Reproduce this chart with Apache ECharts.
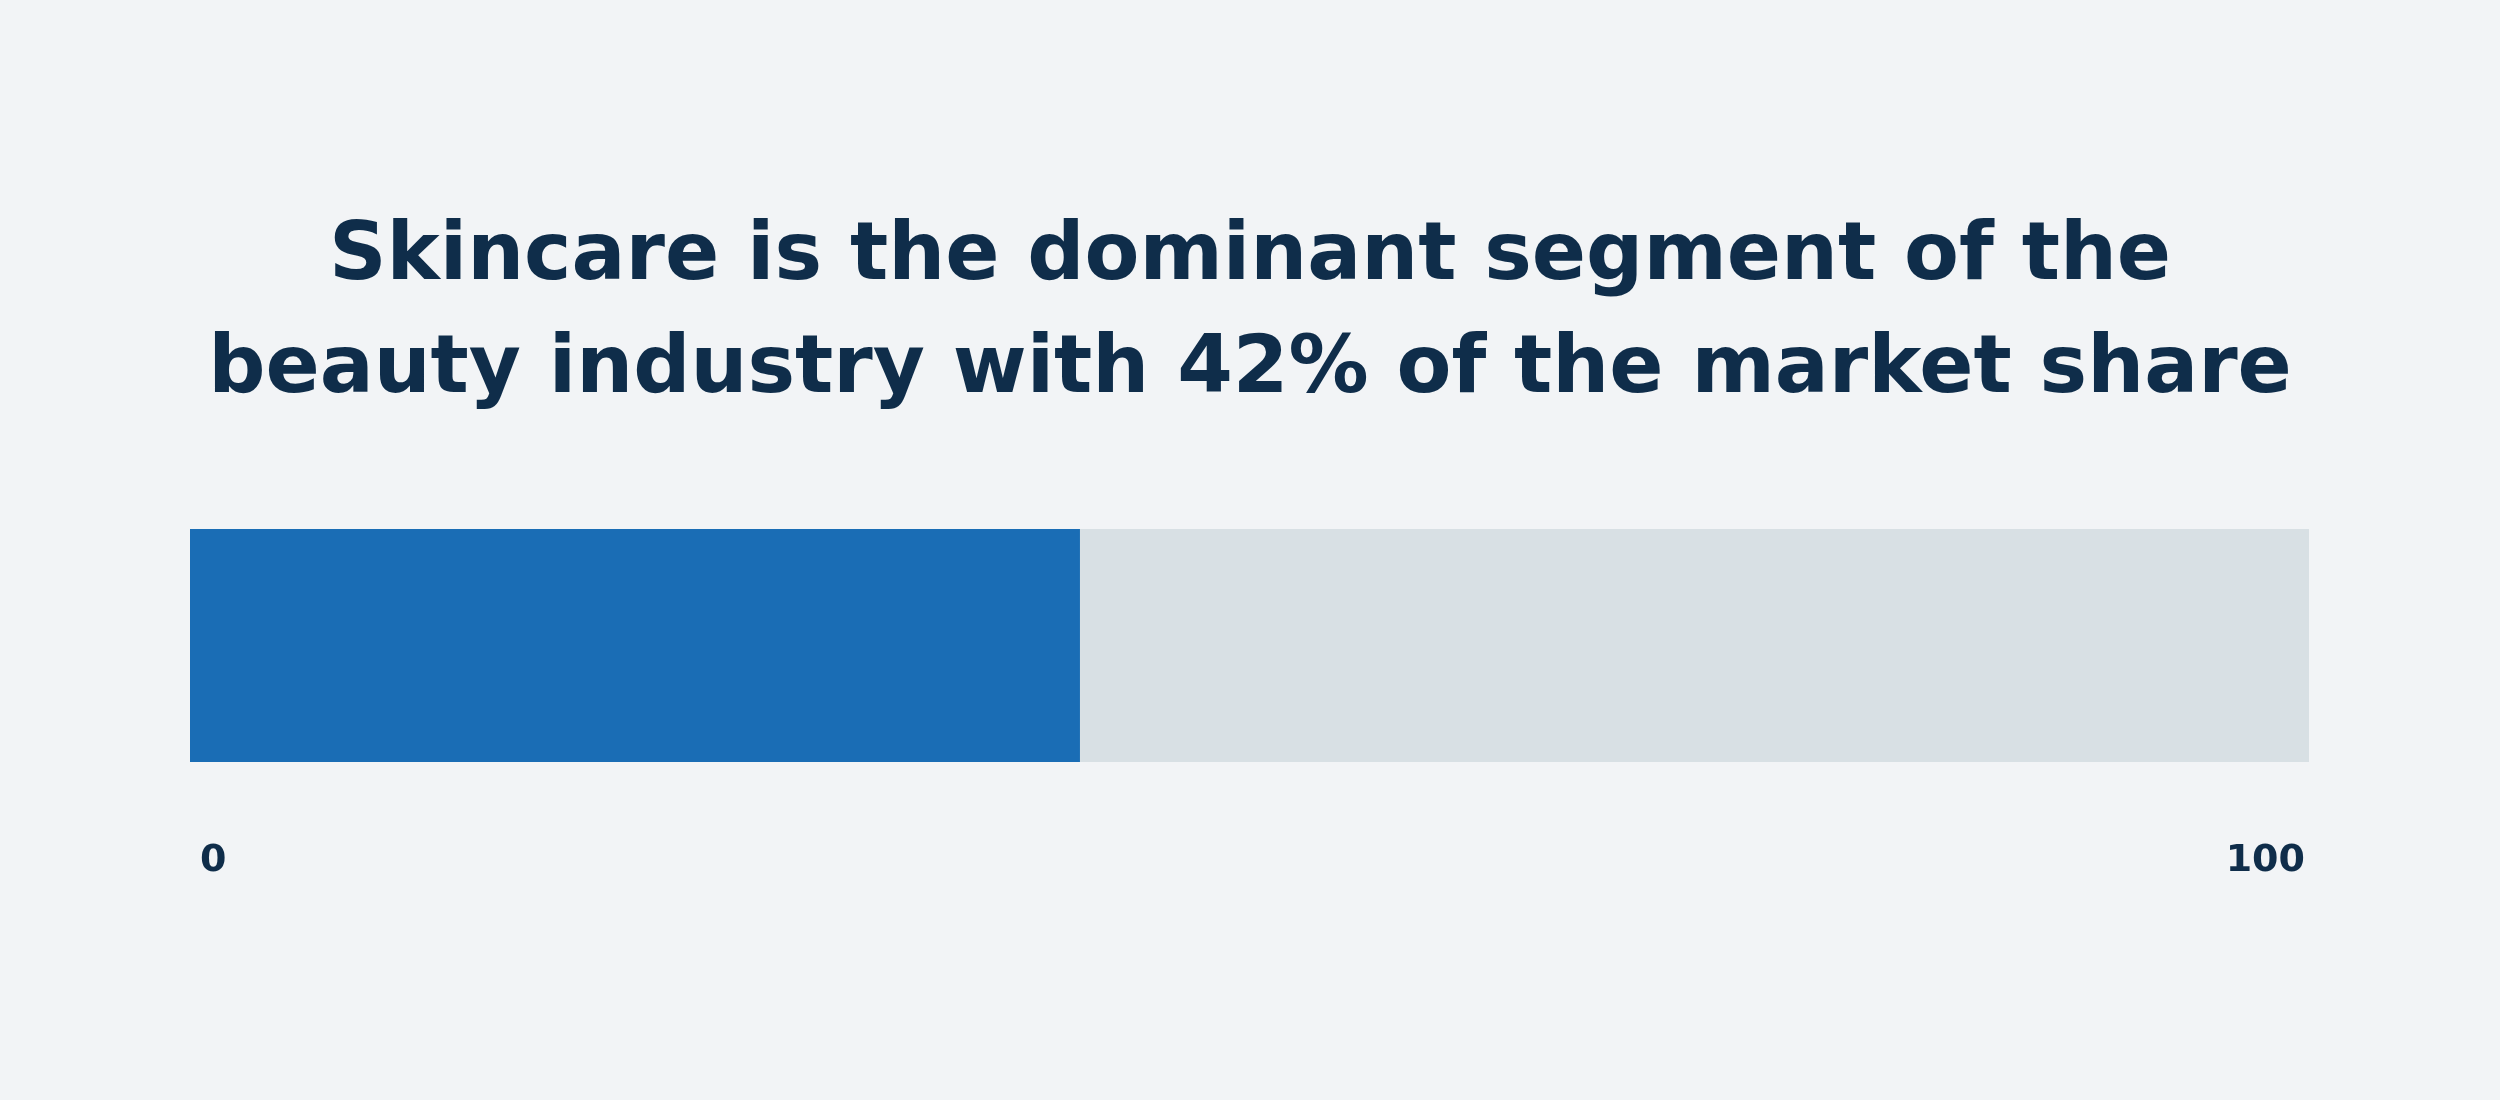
<!DOCTYPE html>
<html><head><meta charset="utf-8">
<script src="https://cdn.jsdelivr.net/npm/echarts@6/dist/echarts.min.js"></script>
<style>html,body{margin:0;padding:0;background:#f2f4f6}#c{width:2500px;height:1100px}</style>
</head><body><div id="c"></div>
<script>
var titleLines = ["Skincare is the dominant segment of the", "beauty industry with 42% of the market share"];
var categories = ["Skincare"];
var shareValues = [42];
var restValues = [58];
var tickLabels = [0, 100];
var chart = echarts.init(document.getElementById('c'));
chart.setOption({
  backgroundColor: '#f2f4f6',
  title: {
    text: titleLines.join('\n'), left: 'center', top: 197,
    textStyle: {fontFamily: 'DejaVu Sans', fontWeight: 'bold', fontSize: 80, lineHeight: 113, color: '#0f2d4a'}
  },
  grid: {left: 190, right: 191, top: 529, height: 233},
  xAxis: {
    type: 'value', min: tickLabels[0], max: tickLabels[1], interval: 100,
    axisLine: {show: false}, axisTick: {show: false}, splitLine: {show: false},
    axisLabel: {margin: 80, fontFamily: 'DejaVu Sans', fontWeight: 'bold', fontSize: 38, color: '#0f2d4a',
      alignMinLabel: 'left', alignMaxLabel: 'right', padding: [0, 4, 0, 10]}
  },
  yAxis: {type: 'category', data: categories, show: false},
  series: [
    {type: 'bar', stack: 's', data: shareValues, barWidth: 233, itemStyle: {color: '#1a6db5'}, silent: true},
    {type: 'bar', stack: 's', data: restValues, barWidth: 233, itemStyle: {color: '#d8e0e4'}, silent: true}
  ]
});
</script></body></html>
